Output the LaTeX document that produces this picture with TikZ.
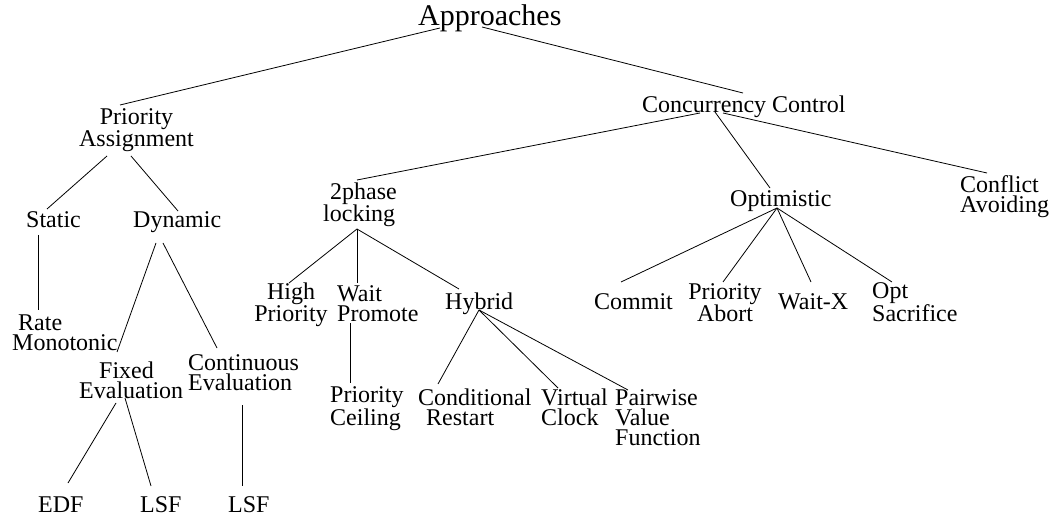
\documentclass[tikz,border=0pt]{standalone}
\usepackage{fontspec}
\setmainfont{Liberation Serif}
\begin{document}
% Labels are placed by the baseline of their last line.
\begin{tikzpicture}[x=1pt,y=-1pt,
  lbl/.style={anchor=base west, inner sep=0pt, align=left, font=\fontsize{24}{20}\selectfont},
  clbl/.style={anchor=base, inner sep=0pt, align=center, font=\fontsize{24}{20}\selectfont},
  edge/.style={line width=0.8pt}]
\useasboundingbox (0,0) rectangle (1054,518);

% root
\node[anchor=base west, inner sep=0pt, font=\fontsize{30}{36}\selectfont] (app) at (418,26) {Approaches};

% priority assignment branch
\node[clbl] (pa) at (136.5,147) {Priority\\Assignment};
\node[lbl] (st) at (26,228) {Static};
\node[lbl] (dy) at (133,228) {Dynamic};
\node[lbl] (rm) at (12,350) {\hspace*{6pt}Rate\\Monotonic};
\node[lbl] (fe) at (79,398) {\hspace*{20pt}Fixed\\Evaluation};
\node[lbl] (ce) at (188,390) {Continuous\\Evaluation};
\node[lbl] (edf) at (38,512) {EDF};
\node[lbl] (lsfa) at (140,512) {LSF};
\node[lbl] (lsfb) at (228,512) {LSF};

% concurrency control branch
\node[lbl] (cc) at (642,113) {Concurrency Control};
\node[lbl] (tp) at (323,222) {\hspace*{7pt}2phase\\locking};
\node[clbl] (hp) at (291,322) {High\\Priority};
\node[lbl] (wp) at (337,322) {Wait\\Promote};
\node[lbl] (hy) at (445,309) {Hybrid};
\node[lbl] (pc) at (330,425) {Priority\\Ceiling};
\node[lbl] (cr) at (418,425) {Conditional\\\hspace*{8pt}Restart};
\node[lbl] (vc) at (541,425) {Virtual\\Clock};
\node[lbl] (pv) at (615,445) {Pairwise\\Value\\Function};
\node[lbl] (op) at (730,207) {Optimistic};
\node[lbl] (ca) at (960,213) {Conflict\\Avoiding};
\node[lbl] (co) at (594,309) {Commit};
\node[clbl] (pab) at (725,322) {Priority\\Abort};
\node[lbl] (wx) at (778,309) {Wait-X};
\node[lbl] (os) at (872,322) {Opt\\Sacrifice};

% tree edges
\draw[edge] ([shift={(22,2)}]app.base west) -- ([shift={(-16.5,-42)}]pa.base);
\draw[edge] ([shift={(64,1)}]app.base west) -- ([shift={(101,-20)}]cc.base west);

\draw[edge] ([shift={(-29.5,9)}]pa.base) -- ([shift={(21,-19)}]st.base west);
\draw[edge] ([shift={(-5.5,9)}]pa.base) -- ([shift={(45,-17)}]dy.base west);
\draw[edge] ([shift={(12,7)}]st.base west) -- ([shift={(26,-40)}]rm.base west);
\draw[edge] ([shift={(23,15)}]dy.base west) -- ([shift={(38,-46)}]fe.base west);
\draw[edge] ([shift={(30,15)}]dy.base west) -- ([shift={(29,-42)}]ce.base west);
\draw[edge] ([shift={(37,5)}]fe.base west) -- ([shift={(30,-29)}]edf.base west);
\draw[edge] ([shift={(46,0)}]fe.base west) -- ([shift={(11,-26)}]lsfa.base west);
\draw[edge] ([shift={(54,15)}]ce.base west) -- ([shift={(14,-26)}]lsfb.base west);

\draw[edge] ([shift={(58,0)}]cc.base west) -- ([shift={(34,-42)}]tp.base west);
\draw[edge] ([shift={(73,-1)}]cc.base west) -- ([shift={(40,-19)}]op.base west);
\draw[edge] ([shift={(81,0)}]cc.base west) -- ([shift={(27,-40)}]ca.base west);

\draw[edge] ([shift={(34,7)}]tp.base west) -- ([shift={(-2,-39)}]hp.base);
\draw[edge] ([shift={(34,7)}]tp.base west) -- ([shift={(20,-39)}]wp.base west);
\draw[edge] ([shift={(34,7)}]tp.base west) -- ([shift={(14,-20)}]hy.base west);
\draw[edge] ([shift={(13,1)}]wp.base west) -- ([shift={(20,-42)}]pc.base west);
\draw[edge] ([shift={(34,1)}]hy.base west) -- ([shift={(20,-41)}]cr.base west);
\draw[edge] ([shift={(34,1)}]hy.base west) -- ([shift={(17,-37)}]vc.base west);
\draw[edge] ([shift={(34,1)}]hy.base west) -- ([shift={(13,-55)}]pv.base west);

\draw[edge] ([shift={(47,1)}]op.base west) -- ([shift={(27,-27)}]co.base west);
\draw[edge] ([shift={(47,1)}]op.base west) -- ([shift={(-2,-40)}]pab.base);
\draw[edge] ([shift={(47,1)}]op.base west) -- ([shift={(33,-27)}]wx.base west);
\draw[edge] ([shift={(47,1)}]op.base west) -- ([shift={(20,-40)}]os.base west);
\end{tikzpicture}
\end{document}
